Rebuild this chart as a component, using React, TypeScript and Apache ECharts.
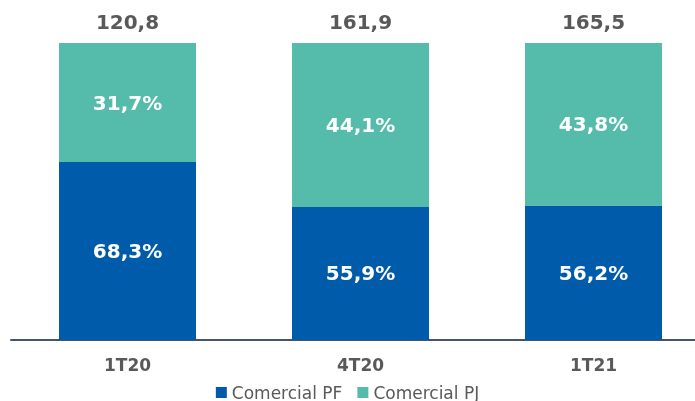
import React, { useEffect, useRef } from "react";
import * as echarts from "echarts";

const categories = ["1T20", "4T20", "1T21"];
const totals = ["120,8", "161,9", "165,5"];
const pfShareLabels = ["68,3%", "55,9%", "56,2%"];
const pjShareLabels = ["31,7%", "44,1%", "43,8%"];
// segment heights as drawn in the picture (share of bar height, %)
const pfHeights = [59.9, 44.8, 45.3];
const pjHeights = [40.1, 55.2, 54.7];
const totalCaps = [0, 0, 0];

const FONT = "DejaVu Sans";
const GRAY = "#595959";

export default function App() {
  const ref = useRef<HTMLDivElement>(null);
  useEffect(() => {
    const chart = echarts.init(ref.current!, undefined, { renderer: "svg" });
    chart.setOption({
      animation: false,
      grid: { left: 11, width: 699, top: 43, bottom: 61, outerBoundsMode: "none", containLabel: false },
      legend: {
        data: ["Comercial PF", "Comercial PJ"],
        bottom: -5,
        left: "center",
        icon: "rect",
        itemWidth: 11,
        itemHeight: 11,
        itemGap: 15,
        textStyle: { color: GRAY, fontFamily: FONT, fontSize: 17 },
      },
      xAxis: {
        type: "category",
        data: categories,
        axisLine: { lineStyle: { color: "#44546A", width: 2 } },
        axisTick: { show: false },
        axisLabel: { color: GRAY, fontFamily: FONT, fontWeight: "bold", fontSize: 17, margin: 16 },
      },
      yAxis: { type: "value", min: 0, max: 100, show: false, splitLine: { show: false } },
      series: [
        {
          name: "Comercial PF",
          type: "bar",
          stack: "s",
          barWidth: 137,
          data: pfHeights,
          itemStyle: { color: "#005BAA" },
          label: {
            show: true,
            position: "inside",
            formatter: (p: any) => pfShareLabels[p.dataIndex],
            color: "#fff",
            fontFamily: FONT,
            fontWeight: "bold",
            fontSize: 20,
          },
        },
        {
          name: "Comercial PJ",
          type: "bar",
          stack: "s",
          barWidth: 137,
          data: pjHeights,
          itemStyle: { color: "#55BBAA" },
          label: {
            show: true,
            position: "inside",
            formatter: (p: any) => pjShareLabels[p.dataIndex],
            color: "#fff",
            fontFamily: FONT,
            fontWeight: "bold",
            fontSize: 20,
          },
        },
        {
          name: "Total",
          type: "bar",
          stack: "s",
          barWidth: 137,
          data: totalCaps,
          itemStyle: { color: "transparent" },
          label: {
            show: true,
            position: "top",
            distance: 11,
            formatter: (p: any) => totals[p.dataIndex],
            color: GRAY,
            fontFamily: FONT,
            fontWeight: "bold",
            fontSize: 20,
          },
        },
      ],
    });
    return () => chart.dispose();
  }, []);
  return (
    <div
      ref={ref}
      style={{ position: "fixed", left: 0, top: 0, width: 695, height: 401, overflow: "hidden" }}
    />
  );
}
